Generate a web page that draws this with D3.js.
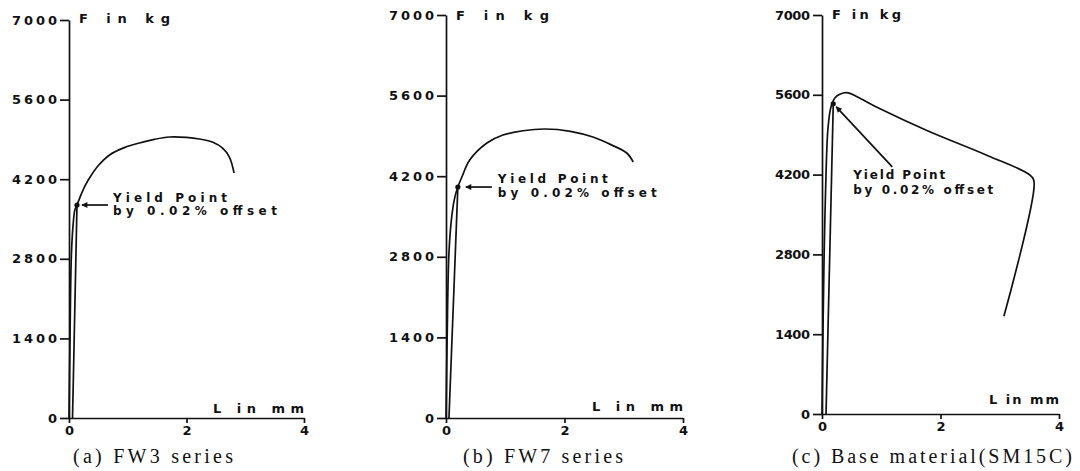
<!doctype html>
<head>
    <meta charset="utf-8">
    <title>Load - elongation curves</title>
    <script src="https://d3js.org/d3.v7.min.js"></script>
    <style>
        body {margin:0;background:#fff}
        svg {display:block}
        .axis path, .axis line {stroke:#111;stroke-width:1.7;fill:none}
        .axis text {font-family:"DejaVu Sans",sans-serif;font-size:13px;font-weight:bold;fill:#111}
        .curve {fill:none;stroke:#111;stroke-width:1.7}
        .lbl {font-family:"DejaVu Sans",sans-serif;font-weight:bold;fill:#111}
        .cap {font-family:"Liberation Serif",serif;font-size:20px;fill:#111}
    </style>
</head>
<body>
    <script>
        "use strict";
        var yTicks = [0, 1400, 2800, 4200, 5600, 7000];
        var xTicks = [0, 2, 4];
        var captions = ["(a) FW3 series", "(b) FW7 series", "(c) Base material(SM15C)"];
        var yLabel = "F in kg";
        var xLabel = "L in mm";
        var noteLines = ["Yield Point", "by 0.02% offset"];

        // FW3 series: L in mm, F in kg
        var fw3L = [0, 0.017, 0.04, 0.07, 0.10, 0.136, 0.19, 0.27, 0.36, 0.50, 0.69, 0.95, 1.20, 1.45, 1.71, 2.00, 2.22, 2.45, 2.61, 2.73, 2.81];
        var fw3F = [0, 1400, 2850, 3400, 3660, 3746, 3890, 4080, 4240, 4440, 4626, 4760, 4837, 4900, 4942, 4935, 4907, 4850, 4749, 4590, 4309];
        var fw3OffL = [0.06, 0.136];
        var fw3OffF = [0, 3746];
        var fw3Yield = [0.136, 3746];

        // FW7 series
        var fw7L = [0, 0.02, 0.05, 0.10, 0.15, 0.20, 0.27, 0.40, 0.69, 0.96, 1.30, 1.67, 2.10, 2.48, 2.80, 3.05, 3.16];
        var fw7F = [0, 1420, 2870, 3530, 3840, 4012, 4190, 4480, 4776, 4915, 4990, 5020, 4980, 4880, 4740, 4603, 4447];
        var fw7OffL = [0.05, 0.20];
        var fw7OffF = [0, 4012];
        var fw7Yield = [0.20, 4012];

        // Base material (SM15C)
        var smL = [0, 0.02, 0.04, 0.07, 0.10, 0.15, 0.22, 0.30, 0.44, 0.60, 0.98, 1.78, 2.80, 3.52, 3.58, 3.07];
        var smF = [0, 1700, 3000, 4300, 5000, 5380, 5548, 5610, 5635, 5560, 5355, 4970, 4532, 4183, 4060, 1715];
        var smOffL = [0.068, 0.19];
        var smOffF = [0, 5442];
        var smYield = [0.19, 5442];

        var series = [
            {L: fw3L, F: fw3F, offL: fw3OffL, offF: fw3OffF, yp: fw3Yield},
            {L: fw7L, F: fw7F, offL: fw7OffL, offF: fw7OffF, yp: fw7Yield},
            {L: smL, F: smF, offL: smOffL, offF: smOffF, yp: smYield}
        ];

        // page layout of the three panels
        var layout = [
            {x: [69, 304], y: [418, 20], tickLen: 45, fLen: 91, fY: 23, lLen: 91, lY: 413,
             note: {dx: 36, dy: [-3, 10], len: [114, 164], arrow: [31, 0, 5, 0]}, capX: 73, capLen: 160},
            {x: [446, 683], y: [418, 15], tickLen: 45, fLen: 93, fY: 20, lLen: 91, lY: 411,
             note: {dx: 40, dy: [-4, 10], len: [110, 159], arrow: [34, 0, 8, 0]}, capX: 463, capLen: 160},
            {x: [822, 1059], y: [414, 15], tickLen: 35, fLen: 69, fY: 19, lLen: 70, lY: 404,
             note: {dx: 20, dy: [75, 90], len: [92, 140], arrow: [59, 63, 3, 3]}, capX: 792, capLen: 280}
        ];

        var svg = d3.select("body").append("svg")
            .attr("width", 1080).attr("height", 471);

        svg.append("defs").append("marker")
            .attr("id", "head")
            .attr("viewBox", "0 0 10 10")
            .attr("refX", 9).attr("refY", 5)
            .attr("markerWidth", 10).attr("markerHeight", 6)
            .attr("markerUnits", "userSpaceOnUse")
            .attr("orient", "auto")
            .append("path").attr("d", "M0,0L10,5L0,10z").attr("fill", "#111");

        layout.forEach(function (lay, i) {
            var s = series[i];
            var x = d3.scaleLinear().domain([0, 4]).range(lay.x);
            var y = d3.scaleLinear().domain([0, 7000]).range(lay.y);
            var g = svg.append("g");

            var ya = g.append("g").attr("class", "axis")
                .attr("transform", "translate(" + lay.x[0] + ",0)")
                .call(d3.axisLeft(y).tickValues(yTicks).tickFormat(d3.format("d"))
                    .tickSize(9).tickPadding(3).tickSizeOuter(0));
            ya.selectAll("text").each(function (d) {
                if (d > 0) d3.select(this).attr("textLength", lay.tickLen).attr("lengthAdjust", "spacing");
            });

            g.append("g").attr("class", "axis")
                .attr("transform", "translate(0," + lay.y[0] + ")")
                .call(d3.axisBottom(x).tickValues(xTicks).tickFormat(d3.format("d"))
                    .tickSize(5).tickPadding(3).tickSizeOuter(0));

            g.append("text").attr("class", "lbl")
                .attr("x", lay.x[0] + 10).attr("y", lay.fY)
                .attr("font-size", 13)
                .attr("textLength", lay.fLen).attr("lengthAdjust", "spacing")
                .text(yLabel);

            g.append("text").attr("class", "lbl")
                .attr("x", lay.x[1]).attr("y", lay.lY)
                .attr("text-anchor", "end")
                .attr("font-size", 13)
                .attr("textLength", lay.lLen).attr("lengthAdjust", "spacing")
                .text(xLabel);

            var line = d3.line()
                .x(function (d) { return x(d[0]); })
                .y(function (d) { return y(d[1]); })
                .curve(d3.curveCatmullRom.alpha(0.5));

            g.append("path").attr("class", "curve")
                .attr("d", line(d3.zip(s.L, s.F)));
            g.append("path").attr("class", "curve")
                .attr("d", d3.line().x(function (d) { return x(d[0]); }).y(function (d) { return y(d[1]); })(d3.zip(s.offL, s.offF)));

            var px = x(s.yp[0]), py = y(s.yp[1]);
            g.append("circle").attr("cx", px).attr("cy", py).attr("r", 2.6).attr("fill", "#111");

            var n = lay.note;
            g.append("line")
                .attr("x1", px + n.arrow[0]).attr("y1", py + n.arrow[1])
                .attr("x2", px + n.arrow[2]).attr("y2", py + n.arrow[3])
                .attr("stroke", "#111").attr("stroke-width", 1.7)
                .attr("marker-end", "url(#head)");

            noteLines.forEach(function (t, k) {
                g.append("text").attr("class", "lbl")
                    .attr("x", px + n.dx).attr("y", py + n.dy[k])
                    .attr("font-size", 12)
                    .attr("textLength", n.len[k]).attr("lengthAdjust", "spacing")
                    .text(t);
            });

            g.append("text").attr("class", "cap")
                .attr("x", lay.capX).attr("y", 463)
                .attr("textLength", lay.capLen).attr("lengthAdjust", "spacing")
                .text(captions[i]);
        });
    </script>
</body>
</html>
